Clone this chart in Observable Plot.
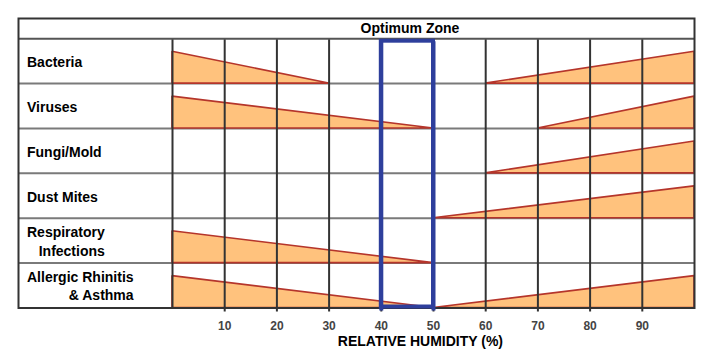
<!DOCTYPE html>
<html>
<head>
<meta charset="utf-8">
<script src="https://cdn.jsdelivr.net/npm/d3@7"></script>
<script src="https://cdn.jsdelivr.net/npm/@observablehq/plot@0.6"></script>
<style>
  html, body { margin: 0; padding: 0; background: #fff; }
  #chart { width: 712px; height: 352px; }
  svg { font-family: "Liberation Sans", Arial, Helvetica, sans-serif; }
</style>
</head>
<body>
<div id="chart"></div>
<script>
// ---- data ----
const categories = ["Bacteria", "Viruses", "Fungi/Mold", "Dust Mites", "Respiratory\nInfections", "Allergic Rhinitis\n& Asthma"];
// risk wedge decreasing from 0% RH down to this humidity (null = none)
const lowRiskEnd = [30, 50, null, null, 50, 50];
// risk wedge increasing from this humidity up to 100% RH (null = none)
const highRiskStart = [60, 70, 60, 50, null, 50];
const optimumZone = [40, 50];
const headerLabel = "Optimum Zone";
const tickValues = [10, 20, 30, 40, 50, 60, 70, 80, 90];
const axisTitle = "RELATIVE HUMIDITY (%)";

// ---- derived tables ----
const wedgeHeight = 0.71;
const wedges = [];
categories.forEach((c, i) => {
  const base = i + 1;
  if (lowRiskEnd[i] != null) {
    wedges.push({id: c + "-low", x: 0, y1: base, y2: base - wedgeHeight});
    wedges.push({id: c + "-low", x: lowRiskEnd[i], y1: base, y2: base});
  }
  if (highRiskStart[i] != null) {
    wedges.push({id: c + "-high", x: highRiskStart[i], y1: base, y2: base});
    wedges.push({id: c + "-high", x: 100, y1: base, y2: base - wedgeHeight});
  }
});
const rowLabels = categories.map((c, i) => ({label: c, y: i + 0.5}));
const rowLines = d3.range(0, categories.length);

const chart = Plot.plot({
  width: 712,
  height: 352,
  marginLeft: 172,
  marginRight: 18,
  marginTop: 18,
  marginBottom: 44.5,
  style: {fontFamily: '"Liberation Sans", Arial, Helvetica, sans-serif', background: "#fff"},
  x: {domain: [0, 100]},
  y: {domain: [-0.45, categories.length], reverse: true, axis: null},
  marks: [
    // horizontal row lines (span label column too)
    Plot.ruleY(rowLines.slice(1), {y: d => d, stroke: "#7a7a7a", strokeWidth: 2, insetLeft: -154}),
    // risk wedges
    Plot.areaY(wedges, {x: "x", y1: "y1", y2: "y2", z: "id", fill: "#ffc27d", stroke: "#b5352b", strokeWidth: 1.6, strokeLinejoin: "miter"}),
    // vertical grid lines
    Plot.ruleX(d3.range(0, 100, 10), {x: d => d, y1: 0, y2: categories.length, stroke: "#333", strokeWidth: 2}),
    // header separator
    Plot.ruleY([0], {stroke: "#555", strokeWidth: 2, insetLeft: -154}),
    // outer frame
    Plot.frame({stroke: "#333", strokeWidth: 2, insetLeft: -154}),
    // x axis
    Plot.axisX({ticks: tickValues, tickSize: 4, tickPadding: 9, stroke: "#333", strokeWidth: 2, fill: "#444", fontSize: 12, fontWeight: "bold", label: null}),
    // optimum zone box
    Plot.rect([optimumZone], {x1: d => d[0], x2: d => d[1], y1: 0, y2: categories.length, fill: "none", stroke: "#2e3f9c", strokeWidth: 4, insetTop: 2.5, insetBottom: 1}),
    Plot.ruleX(optimumZone, {x: d => d, y: categories.length, dy: 3, stroke: "#2e3f9c", strokeWidth: 4, insetTop: 0}),
    // header text
    Plot.text([headerLabel], {x: 45.5, y: -0.225, text: d => d, fontSize: 14, fontWeight: "bold", fill: "#000"}),
    // row labels
    Plot.text(rowLabels, {y: "y", text: "label", frameAnchor: "left", dx: -145, textAnchor: "end", fontSize: 14, fontWeight: "bold", fill: "#000", lineHeight: 1.3, className: "rowlabel"}),
    // axis title
    Plot.text([axisTitle], {frameAnchor: "bottom", x: 47.5, dy: 34, text: d => d, fontSize: 14, fontWeight: "bold", fill: "#000", lineAnchor: "middle"})
  ]
});
document.getElementById("chart").appendChild(chart);

// left-align each label block at the label column padding, keeping lines right-aligned within a block
const leftPad = 27;
const svgLeft = chart.getBoundingClientRect().left;
d3.select(chart).selectAll("g.rowlabel text").each(function() {
  const r = this.getBoundingClientRect();
  const shift = leftPad - (r.left - svgLeft);
  const t = this.getAttribute("transform") || "";
  this.setAttribute("transform", `translate(${shift},0) ` + t);
});
</script>
</body>
</html>
